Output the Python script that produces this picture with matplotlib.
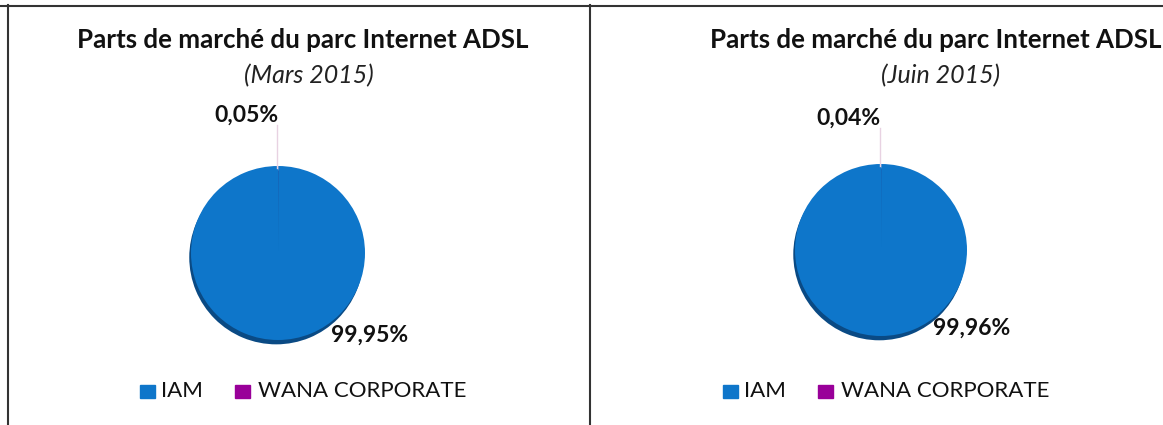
import matplotlib.pyplot as plt
from matplotlib.lines import Line2D

plt.rcParams['font.family'] = ['Lato', 'DejaVu Sans']

# data
operators = ["IAM", "WANA CORPORATE"]
colors = ["#0E76CA", "#990099"]
periods = ["(Mars 2015)", "(Juin 2015)"]
shares = [[99.95, 0.05], [99.96, 0.04]]
share_labels = [["99,95%", "0,05%"], ["99,96%", "0,04%"]]
title = "Parts de marché du parc Internet ADSL"

W, H = 1163, 425
fig = plt.figure(figsize=(W / 100, H / 100), dpi=100)


def px(x, y):
    return x / W, 1 - y / H


# panel settings (pixel positions)
panels = [
    dict(cx=278, cy=253, r=87, tx=303, sx=309, small=(246, 115), big=(370, 335),
         leg=140),
    dict(cx=881, cy=250, r=86, tx=936, sx=941, small=(848, 118), big=(972, 328),
         leg=723),
]

for i, p in enumerate(panels):
    size = 240
    lim = size / 2 / p["r"]
    ax = fig.add_axes([(p["cx"] - size / 2) / W, 1 - (p["cy"] + size / 2) / H,
                       size / W, size / H])
    # shadow below the pie
    ax.pie([1], colors=["#0A4A84"], radius=1.0, center=(-0.02, -0.05),
           wedgeprops=dict(linewidth=0))
    ax.pie(shares[i][::-1], colors=colors[::-1], startangle=90, counterclock=False,
           radius=1.0, wedgeprops=dict(linewidth=0))
    ax.set_xlim(-lim, lim)
    ax.set_ylim(-lim, lim)
    ax.set_aspect("equal")
    ax.axis("off")

    # leader line from small label to the pie
    x0, y0 = px(p["cx"] - 1, p["small"][1] + 10)
    x1, y1 = px(p["cx"] - 1, p["cy"] - p["r"] + 2)
    fig.add_artist(Line2D([x0, x1], [y0, y1], color="#E8D2E2", lw=1.0))

    fig.text(*px(p["tx"], 40), title, ha="center", va="center",
             fontsize=18.6, fontweight="bold", color="#111111")
    fig.text(*px(p["sx"], 76), periods[i], ha="center", va="center",
             fontsize=18, style="italic", color="#222222")
    fig.text(*px(*p["small"]), share_labels[i][1], ha="center", va="center",
             fontsize=16.5, fontweight="bold", color="#111111")
    fig.text(*px(*p["big"]), share_labels[i][0], ha="center", va="center",
             fontsize=16.5, fontweight="bold", color="#111111")

    # legend
    lx = p["leg"]
    fig.add_artist(plt.Rectangle(px(lx, 398), 15 / W, 13 / H, color=colors[0],
                                 transform=fig.transFigure))
    fig.text(*px(lx + 21, 391), operators[0], ha="left", va="center",
             fontsize=16, color="#111111")
    fig.add_artist(plt.Rectangle(px(lx + 95, 398), 15 / W, 13 / H, color=colors[1],
                                 transform=fig.transFigure))
    fig.text(*px(lx + 118, 391), operators[1], ha="left", va="center",
             fontsize=16, color="#111111")

# table borders
for xs, ys in [([0, W], [5.5, 5.5]), ([7.5, 7.5], [5, H]), ([589.5, 589.5], [5, H])]:
    fig.add_artist(Line2D([x / W for x in xs], [1 - y / H for y in ys],
                          color="#333333", lw=1.5))

fig.savefig("out.png", dpi=100)
